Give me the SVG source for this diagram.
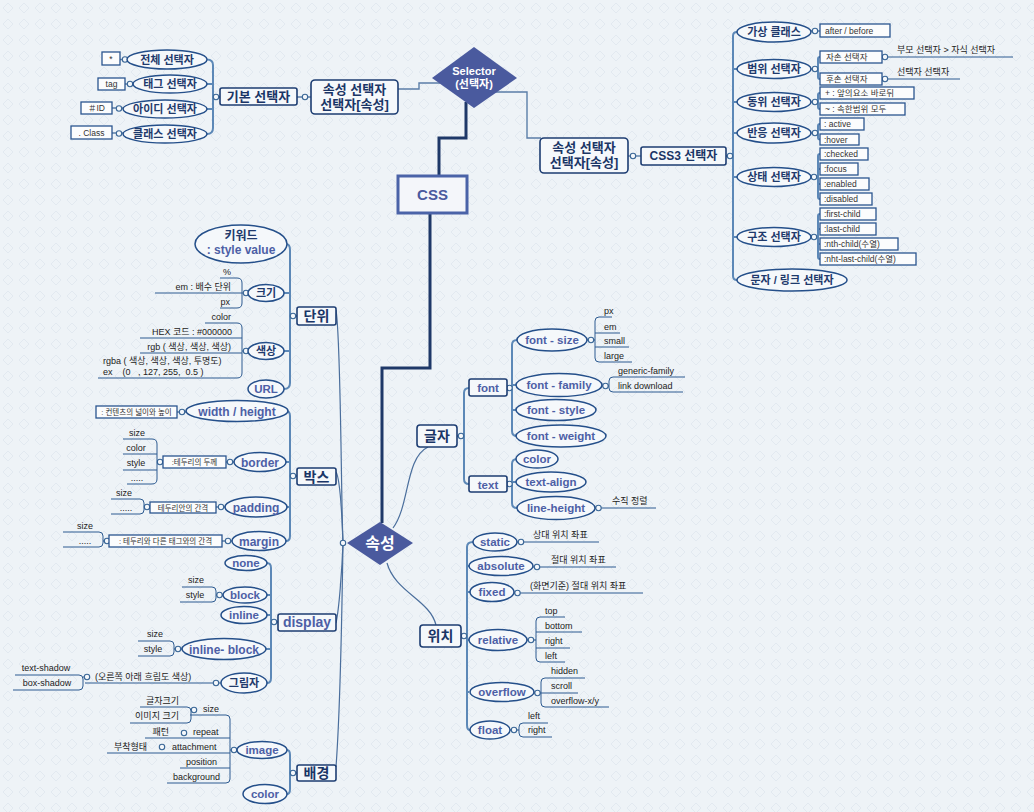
<svg xmlns="http://www.w3.org/2000/svg" width="1034" height="812" viewBox="0 0 1034 812">
<defs>
<pattern id="bgp" width="16" height="16" patternUnits="userSpaceOnUse">
<rect width="16" height="16" fill="#eef3f7"/>
<path d="M8 3 L13 8 L8 13 L3 8Z" fill="none" stroke="#e2e9f0" stroke-width="1"/>
</pattern>
<style>
.el{fill:#f5f8fb;stroke:#244f8a;stroke-width:1.5}
.bx{fill:#f5f8fb;stroke:#1d3d72;stroke-width:1.6}
.sb{fill:#fbfcfd;stroke:#2a5590;stroke-width:1.3}
.br{fill:none;stroke:#5c88b7;stroke-width:2}
.ul{fill:none;stroke:#2d5b91;stroke-width:1}
.dot{fill:#f5f8fb;stroke:#3a6797;stroke-width:1.1}
.main{fill:none;stroke:#1e3868;stroke-width:3}
.thin{fill:none;stroke:#5b7ea8;stroke-width:1.4}
.cv{fill:none;stroke:#4a6e9c;stroke-width:1.2}
.dia{fill:#4a5a9e}
text{font-family:"Liberation Sans","Noto Sans CJK KR",sans-serif}
.k{font-size:11px;font-weight:bold;fill:#1f3a6c;text-anchor:middle}
.kb{font-size:13px;font-weight:bold;fill:#1a3566;text-anchor:middle}
.e{font-size:11.5px;font-weight:bold;fill:#4d5fa6;text-anchor:middle}
.l{font-size:9px;fill:#222}
.le{font-size:9px;fill:#222;text-anchor:end}
.lm{font-size:9px;fill:#222;text-anchor:middle}
.s{font-size:8.5px;fill:#333}
.sm{font-size:8.5px;fill:#333;text-anchor:middle}
.w{fill:#fff;font-weight:bold;text-anchor:middle}
</style>
</defs>
<rect width="1034" height="812" fill="url(#bgp)"/>

<!-- connectors -->
<g id="connectors">
<!-- trunk -->
<path class="thin" d="M398,89 H419 V83 H440"/>
<path class="thin" d="M495,92 H527 V138 H541"/>
<path class="main" d="M466,102 V138 H439 V176"/>
<path class="main" d="M430,213 V368 H382 V523"/>
<path class="cv" d="M336,310 C341,340 341,500 343,543"/>
<path class="cv" d="M336,472 C341,480 342,520 343,543"/>
<path class="cv" d="M336,623 C339,610 342,570 343,543"/>
<path class="cv" d="M336,767 C341,700 342,600 343,543"/>
<path class="cv" d="M393,528 C410,505 405,458 428,447"/>
<path class="cv" d="M387,563 C395,592 430,600 436,625"/>
<circle class="dot" cx="343" cy="543" r="2.7"/>

<!-- basic selectors -->
<path class="br" d="M207,59.5 Q213,59.5 213,65 V128 Q213,134 207,134 M207,84 H213 M207,109 H213 M213,97 H220"/>
<path class="thin" d="M297,97 H311 M120,59.5 H127 M125,84 H133 M112,108 H123 M112,133 H123"/>
<circle class="dot" cx="216" cy="97" r="2.7"/>
<circle class="dot" cx="305" cy="97" r="2.7"/>
<circle class="dot" cx="125" cy="59.5" r="2.7"/>
<circle class="dot" cx="130" cy="84" r="2.7"/>
<circle class="dot" cx="119" cy="108.5" r="2.7"/>
<circle class="dot" cx="119" cy="133.5" r="2.7"/>

<!-- CSS3 selectors -->
<path class="thin" d="M628,156 H641"/>
<circle class="dot" cx="633" cy="156" r="2.7"/>
<path class="br" d="M737,32 Q733,32 733,36 V276 Q733,280 737,280 M733,69 H737 M733,102 H737 M733,133 H737 M733,177 H737 M733,237 H737 M726,156 H733"/>
<circle class="dot" cx="730" cy="156" r="2.7"/>
<path class="thin" d="M811,31 H820 M811,69 H818 M811,102 H818 M811,133 H818 M811,177 H818 M811,237 H818"/>
<path class="br" d="M820,57 Q818,57 818,59 V77 Q818,79 820,79 M820,93 Q818,93 818,95 V107 Q818,109 820,109 M820,124 Q818,124 818,126 V137.5 Q818,139.5 820,139.5 M820,154 Q818,154 818,156 V197 Q818,199 820,199 M818,169 H820 M818,184 H820 M820,214 Q818,214 818,216 V257 Q818,259 820,259 M818,229 H820 M818,244 H820"/>
<circle class="dot" cx="815" cy="31" r="2.7"/>
<circle class="dot" cx="815" cy="69" r="2.7"/>
<circle class="dot" cx="815" cy="102" r="2.7"/>
<circle class="dot" cx="815" cy="133" r="2.7"/>
<circle class="dot" cx="814" cy="177" r="2.7"/>
<circle class="dot" cx="814" cy="237" r="2.7"/>
<path class="ul" d="M882,57 H1013 M882,79 H960"/>
<circle class="dot" cx="885" cy="57" r="2.7"/>
<circle class="dot" cx="885" cy="79" r="2.7"/>

<!-- units -->
<path class="br" d="M286,244 Q290,244 290,250 V383 Q290,389 284,389 M284,293 H290 M284,351 H290 M290,316 H297"/>
<circle class="dot" cx="293" cy="316" r="2.7"/>
<path class="ul" d="M220,278 H237 Q242,278 242,283 V303 Q242,308 237,308 H220 M155,293 H248"/>
<circle class="dot" cx="246" cy="293" r="2.7"/>
<path class="ul" d="M205,323 H237 Q242,323 242,328 V373 Q242,378 237,378 H98 M140,338 H242 M140,353 H242 M242,351 H248"/>
<circle class="dot" cx="246" cy="351" r="2.7"/>

<!-- box -->
<path class="br" d="M286,411 Q290,411 290,416 V536 Q290,541 286,541 M286,462 H290 M287,507 H290 M290,476 H297"/>
<circle class="dot" cx="293" cy="476" r="2.7"/>
<path class="thin" d="M177,412 H186 M226,462 H234 M157,462 H163 M216,507 H225 M144,507 H150 M222,541 H232 M103,541 H109"/>
<circle class="dot" cx="182" cy="412" r="2.7"/>
<circle class="dot" cx="230" cy="462" r="2.7"/>
<circle class="dot" cx="160" cy="462" r="2.7"/>
<circle class="dot" cx="221" cy="507" r="2.7"/>
<circle class="dot" cx="147" cy="507" r="2.7"/>
<circle class="dot" cx="228" cy="541" r="2.7"/>
<circle class="dot" cx="107" cy="541" r="2.7"/>
<path class="ul" d="M123,439 H152 Q157,439 157,444 V479 Q157,484 152,484 H127 M123,454 H157 M123,470 H157"/>
<path class="ul" d="M111,499 H140 Q144,499 144,503 V510 Q144,514 140,514 H111"/>
<path class="ul" d="M63,532 H99 Q103,532 103,536 V543 Q103,547 99,547 H63"/>

<!-- display -->
<path class="br" d="M267,563 Q271,563 271,568 V678 Q271,683 267,683 M267,595 H271 M267,615 H271 M266,649 H271 M271,622 H278"/>
<circle class="dot" cx="274" cy="622" r="2.7"/>
<path class="thin" d="M216,595 H223 M174,649 H182"/>
<circle class="dot" cx="219.5" cy="595" r="2.7"/>
<circle class="dot" cx="178" cy="649" r="2.7"/>
<path class="ul" d="M182,587 H212 Q216,587 216,591 V598 Q216,602 212,602 H180"/>
<path class="ul" d="M138,641 H170 Q174,641 174,645 V652 Q174,656 170,656 H138"/>
<path class="ul" d="M85,683 H221"/>
<circle class="dot" cx="216" cy="683" r="2.7"/>
<path class="ul" d="M15,675 H79 Q83,675 83,679 V686 Q83,690 79,690 H13 M83,677 H85"/>
<circle class="dot" cx="87" cy="677" r="2.7"/>

<!-- background -->
<path class="br" d="M287,750 Q290,750 290,755 V789 Q290,794 287,794 M290,773 H297"/>
<circle class="dot" cx="293" cy="773" r="2.7"/>
<path class="thin" d="M230,750 H237"/>
<circle class="dot" cx="234" cy="750" r="2.7"/>
<path class="ul" d="M190,715 H226 Q230,715 230,719 V779 Q230,783 226,783 H167 M145,738 H230 M107,753 H230 M180,768 H230"/>
<path class="ul" d="M140,707 H187 Q191,707 191,711 V719 Q191,723 187,723 H130"/>
<circle class="dot" cx="194" cy="710" r="2.7"/>
<circle class="dot" cx="184" cy="733" r="2.7"/>
<circle class="dot" cx="162" cy="747" r="2.7"/>

<!-- text group -->
<path class="br" d="M469,388 Q464,388 464,393 V479 Q464,484 469,484 M457,436 H464"/>
<circle class="dot" cx="461" cy="436" r="2.7"/>
<path class="br" d="M517,340 Q512,340 512,345 V431 Q512,436 517,436 M512,385 H516 M512,410 H516 M507,388 H512"/>
<circle class="dot" cx="509.5" cy="388" r="2.7"/>
<path class="br" d="M517,459 Q512,459 512,464 V503 Q512,508 517,508 M512,482 H517 M507,484 H512"/>
<circle class="dot" cx="509.5" cy="484" r="2.7"/>
<path class="thin" d="M587,340 H595 M602,386 H609"/>
<circle class="dot" cx="591" cy="340" r="2.7"/>
<circle class="dot" cx="605.5" cy="386" r="2.7"/>
<path class="ul" d="M612,317 H599 Q595,317 595,321 V358 Q595,362 599,362 H632 M595,333 H620 M595,347 H629"/>
<path class="ul" d="M685,377 H613 Q609,377 609,381 V388 Q609,392 613,392 H683"/>
<path class="ul" d="M595,508 H656"/>
<circle class="dot" cx="598.5" cy="508" r="2.7"/>

<!-- position -->
<path class="br" d="M473,542 Q467,542 467,547 V725 Q467,730 470,730 M467,566 H469 M467,592 H471 M467,640 H469 M467,692 H469 M461,636 H467"/>
<circle class="dot" cx="464" cy="636" r="2.7"/>
<path class="ul" d="M517,542 H599 M533,567 H616 M514,593 H643"/>
<circle class="dot" cx="521" cy="542" r="2.7"/>
<circle class="dot" cx="537" cy="567" r="2.7"/>
<circle class="dot" cx="517.5" cy="593" r="2.7"/>
<path class="thin" d="M527,640 H536 M534,693 H541 M510,730 H519"/>
<circle class="dot" cx="531" cy="640" r="2.7"/>
<circle class="dot" cx="537.5" cy="693" r="2.7"/>
<circle class="dot" cx="514" cy="730" r="2.7"/>
<path class="ul" d="M565,617 H540 Q536,617 536,621 V658 Q536,662 540,662 H565 M536,632 H582 M536,648 H570"/>
<path class="ul" d="M585,678 H545 Q541,678 541,682 V703 Q541,707 545,707 H609 M541,693 H578"/>
<path class="ul" d="M548,723 H523 Q519,723 519,727 V733 Q519,737 523,737 H552"/>
</g>

<!-- central nodes -->
<g id="n-selector"><polygon class="dia" points="432,78 474,47 517,78 474,108"/><text class="w" x="474" y="75" style="font-size:11px">Selector</text><text class="w" x="474" y="88" style="font-size:11px">(선택자)</text></g>
<g id="n-css"><rect x="398" y="176" width="69" height="37" fill="#f4f6fa" stroke="#4a63a8" stroke-width="3"/><text x="432.5" y="200" style="font-size:15px;font-weight:bold;fill:#4a5a9e;text-anchor:middle">CSS</text></g>
<g id="n-prop"><polygon class="dia" points="347,543 380,522 413,543 380,565"/><text class="w" x="380" y="549" style="font-size:16px">속성</text></g>

<!-- selectors -->
<g id="n-attrsel-l"><rect class="bx" x="311" y="80" width="87" height="34" rx="4"/><text class="kb" x="354.5" y="94">속성 선택자</text><text class="kb" x="354.5" y="109">선택자[속성]</text></g>
<g id="n-basic"><rect class="bx" x="220" y="88" width="77" height="17" rx="2"/><text class="kb" x="258.5" y="101">기본 선택자</text></g>
<g id="n-all"><ellipse class="el" cx="167" cy="59.5" rx="40" ry="9.5"/><text class="k" x="167" y="63.5">전체 선택자</text></g>
<g id="n-tag"><ellipse class="el" cx="170" cy="84" rx="37" ry="9"/><text class="k" x="170" y="88">태그 선택자</text></g>
<g id="n-id"><ellipse class="el" cx="165" cy="109" rx="42" ry="9"/><text class="k" x="165" y="113">아이디 선택자</text></g>
<g id="n-class"><ellipse class="el" cx="165" cy="134" rx="42" ry="9"/><text class="k" x="165" y="138">클래스 선택자</text></g>
<g id="v-all"><rect class="sb" x="102" y="52" width="18" height="13"/><text class="sm" x="111" y="62">*</text></g>
<g id="v-tag"><rect class="sb" x="98" y="78" width="27" height="12"/><text class="sm" x="111.5" y="87">tag</text></g>
<g id="v-id"><rect class="sb" x="81" y="102" width="31" height="12"/><text class="sm" x="96.5" y="111">＃ID</text></g>
<g id="v-class"><rect class="sb" x="71" y="126" width="41" height="13"/><text class="sm" x="91.5" y="135.5">. Class</text></g>

<g id="n-attrsel-r"><rect class="bx" x="540" y="138" width="88" height="35" rx="4"/><text class="kb" x="584" y="152">속성 선택자</text><text class="kb" x="584" y="167">선택자[속성]</text></g>
<g id="n-css3"><rect class="bx" x="641" y="147" width="85" height="18" rx="2"/><text class="kb" x="683.5" y="160" style="font-size:12px">CSS3 선택자</text></g>
<g id="n-pseudo"><ellipse class="el" cx="774" cy="32" rx="37" ry="10"/><text class="k" x="774" y="36">가상 클래스</text></g>
<g id="v-pseudo"><rect class="sb" x="820" y="24" width="70" height="13"/><text class="s" x="825" y="33.5">after / before</text></g>
<g id="n-range"><ellipse class="el" cx="774" cy="69" rx="37" ry="9.5"/><text class="k" x="774" y="73">범위 선택자</text></g>
<g id="v-child"><rect class="sb" x="820" y="51" width="62" height="12"/><text class="s" x="826" y="60">자손 선택자</text></g>
<g id="v-desc"><rect class="sb" x="820" y="73" width="62" height="12"/><text class="s" x="826" y="82">후손 선택자</text></g>
<text class="l" x="897" y="53">부모 선택자 &gt; 자식 선택자</text>
<text class="l" x="897" y="75">선택자 선택자</text>
<g id="n-sibling"><ellipse class="el" cx="774" cy="102" rx="37" ry="9.5"/><text class="k" x="774" y="106">동위 선택자</text></g>
<g id="v-adj"><rect class="sb" x="820" y="87" width="94" height="12"/><text class="s" x="825" y="96">+ : 앞의요소 바로뒤</text></g>
<g id="v-gen"><rect class="sb" x="820" y="103" width="85" height="12"/><text class="s" x="825" y="112">~ : 속한범위 모두</text></g>
<g id="n-react"><ellipse class="el" cx="774" cy="133" rx="37" ry="10"/><text class="k" x="774" y="137">반응 선택자</text></g>
<g id="v-active"><rect class="sb" x="820" y="118" width="44" height="12"/><text class="s" x="824" y="127">: active</text></g>
<g id="v-hover"><rect class="sb" x="820" y="134" width="39" height="11"/><text class="s" x="824" y="142.5">:hover</text></g>
<g id="n-state"><ellipse class="el" cx="774" cy="177" rx="37" ry="9.5"/><text class="k" x="774" y="181">상태 선택자</text></g>
<g id="v-checked"><rect class="sb" x="820" y="148" width="48" height="12"/><text class="s" x="824" y="157">:checked</text></g>
<g id="v-focus"><rect class="sb" x="820" y="163" width="38" height="12"/><text class="s" x="824" y="172">:focus</text></g>
<g id="v-enabled"><rect class="sb" x="820" y="178" width="49" height="12"/><text class="s" x="824" y="187">:enabled</text></g>
<g id="v-disabled"><rect class="sb" x="820" y="193" width="52" height="12"/><text class="s" x="824" y="202">:disabled</text></g>
<g id="n-struct"><ellipse class="el" cx="774" cy="237" rx="37" ry="9.5"/><text class="k" x="774" y="241">구조 선택자</text></g>
<g id="v-first"><rect class="sb" x="820" y="208" width="56" height="12"/><text class="s" x="824" y="217">:first-child</text></g>
<g id="v-last"><rect class="sb" x="820" y="223" width="56" height="12"/><text class="s" x="824" y="232">:last-child</text></g>
<g id="v-nth"><rect class="sb" x="820" y="238" width="78" height="12"/><text class="s" x="824" y="247">:nth-child(수열)</text></g>
<g id="v-nthlast"><rect class="sb" x="820" y="253" width="96" height="12"/><text class="s" x="824" y="262">:nht-last-child(수열)</text></g>
<g id="n-textlink"><ellipse class="el" cx="792" cy="280" rx="55" ry="11"/><text class="k" x="792" y="284">문자 / 링크 선택자</text></g>

<!-- units -->
<g id="n-unit"><rect class="bx" x="297" y="307" width="39" height="18" rx="2"/><text class="kb" x="316.5" y="321" style="font-size:14px">단위</text></g>
<g id="n-keyword"><ellipse class="el" cx="241" cy="244" rx="46" ry="19"/><text class="k" x="241" y="240" style="font-size:12px">키워드</text><text class="e" x="241" y="254" style="font-size:12px">: style value</text></g>
<g id="n-size"><ellipse class="el" cx="266" cy="293" rx="18" ry="8.5"/><text class="k" x="266" y="297">크기</text></g>
<text class="le" x="231" y="275">%</text>
<text class="le" x="231" y="290">em : 배수 단위</text>
<text class="le" x="230" y="305">px</text>
<g id="n-color-u"><ellipse class="el" cx="266" cy="351" rx="18" ry="8.5"/><text class="k" x="266" y="355">색상</text></g>
<text class="le" x="231" y="320">color</text>
<text class="le" x="232" y="335">HEX 코드 : #000000</text>
<text class="le" x="231" y="350">rgb ( 색상, 색상, 색상)</text>
<text class="l" x="103" y="364">rgba ( 색상, 색상, 색상, 투명도)</text>
<text class="l" x="103" y="375" style="white-space:pre">ex    (0   , 127, 255,  0.5 )</text>
<g id="n-url"><ellipse class="el" cx="266" cy="389" rx="18" ry="9"/><text class="e" x="266" y="393">URL</text></g>

<!-- box model -->
<g id="n-box"><rect class="bx" x="297" y="468" width="39" height="17" rx="2"/><text class="kb" x="316.5" y="481.5" style="font-size:14px">박스</text></g>
<g id="n-wh"><ellipse class="el" cx="237" cy="411" rx="51" ry="10.5"/><text class="e" x="237" y="415.5" style="font-size:12px">width / height</text></g>
<g id="v-wh"><rect class="sb" x="96" y="406" width="81" height="12"/><text class="sm" x="136.5" y="415" style="font-size:7.5px">: 컨텐츠의 넓이와 높이</text></g>
<g id="n-border"><ellipse class="el" cx="260" cy="462" rx="26" ry="9.5"/><text class="e" x="260" y="466.5" style="font-size:12px">border</text></g>
<g id="v-border"><rect class="sb" x="163" y="456" width="63" height="12"/><text class="sm" x="194.5" y="465" style="font-size:7.5px">:테두리의 두께</text></g>
<text class="lm" x="137" y="436">size</text>
<text class="lm" x="136" y="451">color</text>
<text class="lm" x="136" y="466">style</text>
<text class="lm" x="137" y="481">.....</text>
<g id="n-padding"><ellipse class="el" cx="256" cy="507" rx="31" ry="10"/><text class="e" x="256" y="511.5" style="font-size:12px">padding</text></g>
<g id="v-padding"><rect class="sb" x="150" y="502" width="66" height="11"/><text class="sm" x="183" y="510.5" style="font-size:7.5px">테두리안의 간격</text></g>
<text class="lm" x="124" y="496">size</text>
<text class="lm" x="126" y="511">.....</text>
<g id="n-margin"><ellipse class="el" cx="259" cy="541" rx="27" ry="9.5"/><text class="e" x="259" y="545.5" style="font-size:12px">margin</text></g>
<g id="v-margin"><rect class="sb" x="109" y="535" width="113" height="12"/><text class="sm" x="165.5" y="544" style="font-size:7.5px">: 테두리와 다른 태그와의 간격</text></g>
<text class="lm" x="85" y="529">size</text>
<text class="lm" x="85" y="544">.....</text>

<!-- display -->
<g id="n-display"><rect class="bx" x="278" y="614" width="58" height="17" rx="2"/><text class="e" x="307" y="627" style="font-size:14px">display</text></g>
<g id="n-none"><ellipse class="el" cx="246" cy="563" rx="21" ry="7.5"/><text class="e" x="246" y="567">none</text></g>
<g id="n-block"><ellipse class="el" cx="245" cy="595" rx="22" ry="8"/><text class="e" x="245" y="599">block</text></g>
<text class="lm" x="196" y="583">size</text>
<text class="lm" x="195" y="598">style</text>
<g id="n-inline"><ellipse class="el" cx="244" cy="615" rx="23" ry="8.5"/><text class="e" x="244" y="619">inline</text></g>
<g id="n-inlineblock"><ellipse class="el" cx="224" cy="649" rx="42" ry="10.5"/><text class="e" x="224" y="653.5" style="font-size:12px">inline- block</text></g>
<text class="lm" x="155" y="637">size</text>
<text class="lm" x="153" y="652">style</text>
<g id="n-shadow"><ellipse class="el" cx="244" cy="683" rx="23" ry="10"/><text class="k" x="244" y="687">그림자</text></g>
<text class="l" x="95" y="680">(오른쪽 아래 흐림도 색상)</text>
<text class="lm" x="46" y="671">text-shadow</text>
<text class="lm" x="47" y="686">box-shadow</text>

<!-- background -->
<g id="n-bg"><rect class="bx" x="297" y="765" width="39" height="16" rx="2"/><text class="kb" x="316.5" y="778" style="font-size:14px">배경</text></g>
<g id="n-image"><ellipse class="el" cx="262" cy="750" rx="25" ry="8.5"/><text class="e" x="262" y="754">image</text></g>
<g id="n-color-b"><ellipse class="el" cx="265" cy="794" rx="22" ry="9.5"/><text class="e" x="265" y="798">color</text></g>
<text class="l" x="203" y="712">size</text>
<text class="le" x="179" y="704">글자크기</text>
<text class="le" x="179" y="719">이미지 크기</text>
<text class="l" x="193" y="735">repeat</text>
<text class="le" x="169" y="735">패턴</text>
<text class="l" x="172" y="750">attachment</text>
<text class="le" x="147" y="750">부착형태</text>
<text class="l" x="186" y="765">position</text>
<text class="l" x="173" y="780">background</text>

<!-- typography -->
<g id="n-text"><rect class="bx" x="417" y="425" width="40" height="22" rx="3"/><text class="kb" x="437" y="441" style="font-size:14px">글자</text></g>
<g id="n-font"><rect class="bx" x="469" y="379" width="38" height="17" rx="2"/><text class="e" x="488" y="392">font</text></g>
<g id="n-textp"><rect class="bx" x="469" y="476" width="38" height="16" rx="2"/><text class="e" x="488" y="488.5">text</text></g>
<g id="n-fsize"><ellipse class="el" cx="552" cy="340" rx="35" ry="11"/><text class="e" x="552" y="344">font - size</text></g>
<text class="l" x="604" y="314">px</text>
<text class="l" x="604" y="330">em</text>
<text class="l" x="604" y="344">small</text>
<text class="l" x="604" y="359">large</text>
<g id="n-ffamily"><ellipse class="el" cx="559" cy="385" rx="43" ry="11.5"/><text class="e" x="559" y="389">font - family</text></g>
<text class="l" x="618" y="374">generic-family</text>
<text class="l" x="618" y="389">link download</text>
<g id="n-fstyle"><ellipse class="el" cx="556" cy="410" rx="40" ry="10.5"/><text class="e" x="556" y="414">font - style</text></g>
<g id="n-fweight"><ellipse class="el" cx="561" cy="436" rx="45" ry="11"/><text class="e" x="561" y="440">font - weight</text></g>
<g id="n-tcolor"><ellipse class="el" cx="537" cy="459" rx="21" ry="9"/><text class="e" x="537" y="463">color</text></g>
<g id="n-talign"><ellipse class="el" cx="551" cy="482" rx="35" ry="10"/><text class="e" x="551" y="486">text-align</text></g>
<g id="n-lheight"><ellipse class="el" cx="556" cy="508" rx="39" ry="11.5"/><text class="e" x="556" y="512">line-height</text></g>
<text class="l" x="612" y="504">수직 정렬</text>

<!-- positioning -->
<g id="n-pos"><rect class="bx" x="420" y="625" width="41" height="22" rx="3"/><text class="kb" x="440.5" y="641" style="font-size:14px">위치</text></g>
<g id="n-static"><ellipse class="el" cx="495" cy="542" rx="22" ry="9"/><text class="e" x="495" y="546">static</text></g>
<text class="l" x="533" y="538">상대 위치 좌표</text>
<g id="n-absolute"><ellipse class="el" cx="501" cy="566" rx="32" ry="9.5"/><text class="e" x="501" y="570">absolute</text></g>
<text class="l" x="551" y="563">절대 위치 좌표</text>
<g id="n-fixed"><ellipse class="el" cx="492" cy="592" rx="22" ry="9.5"/><text class="e" x="492" y="596">fixed</text></g>
<text class="l" x="530" y="589">(화면기준) 절대 위치 좌표</text>
<g id="n-relative"><ellipse class="el" cx="498" cy="640" rx="29" ry="10.5"/><text class="e" x="498" y="644">relative</text></g>
<text class="l" x="545" y="614">top</text>
<text class="l" x="545" y="629">bottom</text>
<text class="l" x="545" y="644">right</text>
<text class="l" x="545" y="659">left</text>
<g id="n-overflow"><ellipse class="el" cx="502" cy="692" rx="32" ry="9.5"/><text class="e" x="502" y="696">overflow</text></g>
<text class="l" x="551" y="674">hidden</text>
<text class="l" x="551" y="689">scroll</text>
<text class="l" x="551" y="704">overflow-x/y</text>
<g id="n-float"><ellipse class="el" cx="490" cy="730" rx="20" ry="9"/><text class="e" x="490" y="734">float</text></g>
<text class="l" x="528" y="719">left</text>
<text class="l" x="528" y="733">right</text>
</svg>
